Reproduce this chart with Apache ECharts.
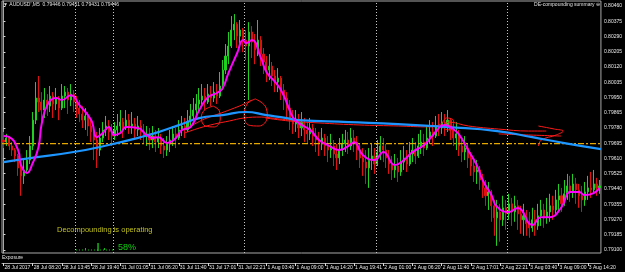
<!DOCTYPE html>
<html>
<head>
<meta charset="utf-8">
<script src="https://cdn.jsdelivr.net/npm/echarts@6/dist/echarts.min.js"></script>
<style>
html, body { margin: 0; padding: 0; background: #000; }
#chart { width: 625px; height: 272px; }
</style>
</head>
<body>
<div id="chart"></div>
<script>
// time labels, one every 10 bars
const timeLabels = ['28 Jul 2017', '28 Jul 08:20', '28 Jul 13:45', '28 Jul 19:40', '31 Jul 01:05', '31 Jul 06:20',
  '31 Jul 11:40', '31 Jul 17:01', '31 Jul 22:21', '1 Aug 03:40', '1 Aug 09:00', '1 Aug 14:20', '1 Aug 19:41',
  '2 Aug 01:00', '2 Aug 06:20', '2 Aug 11:40', '2 Aug 17:01', '2 Aug 22:21', '3 Aug 03:40', '3 Aug 09:00', '3 Aug 14:20'];

const priceTicks = [0.80460, 0.80375, 0.80290, 0.80205, 0.80120, 0.80035, 0.79950, 0.79865, 0.79780,
  0.79695, 0.79610, 0.79525, 0.79440, 0.79355, 0.79270, 0.79185, 0.79100];

const firstOpen = 0.79713;
const closes = [
  0.79702, 0.79724, 0.79680, 0.79657, 0.79624, 0.79557, 0.79513, 0.79546, 0.79601, 0.79680, 0.79824, 0.79947, 0.79925,
  0.79880, 0.79936, 0.79902, 0.79958, 0.79914, 0.79947, 0.79891, 0.79958, 0.79980, 0.79936, 0.79969, 0.79925, 0.79891,
  0.79858, 0.79824, 0.79847, 0.79791, 0.79758,
  0.79713, 0.79657, 0.79724, 0.79769, 0.79791, 0.79758, 0.79735, 0.79769, 0.79791, 0.79813, 0.79780, 0.79824, 0.79791,
  0.79802, 0.79769, 0.79791, 0.79758, 0.79735, 0.79747, 0.79713, 0.79735, 0.79702, 0.79724, 0.79680, 0.79657, 0.79691,
  0.79713, 0.79747, 0.79724, 0.79769, 0.79791, 0.79769, 0.79813, 0.79847, 0.79880, 0.79914,
  0.79936, 0.79958, 0.79925, 0.79969, 0.79947, 0.79980, 0.79958, 0.80014, 0.80103, 0.80181, 0.80237,
  0.80326, 0.80359, 0.80292, 0.80326, 0.80270, 0.80237, 0.80315, 0.80259, 0.80214, 0.80270, 0.80192,
  0.80148, 0.80103, 0.80125, 0.80070, 0.80036, 0.80058, 0.79991, 0.79947, 0.79891, 0.79836, 0.79802,
  0.79824, 0.79780, 0.79813, 0.79769, 0.79747, 0.79780, 0.79735, 0.79713, 0.79691, 0.79724, 0.79680,
  0.79657, 0.79680, 0.79635, 0.79613, 0.79657, 0.79691, 0.79713, 0.79680, 0.79724, 0.79702, 0.79657,
  0.79613, 0.79590, 0.79557, 0.79601, 0.79624, 0.79579, 0.79646, 0.79680, 0.79657, 0.79613, 0.79579,
  0.79546, 0.79568, 0.79535, 0.79590, 0.79613, 0.79579, 0.79635, 0.79657, 0.79624, 0.79680, 0.79702,
  0.79668, 0.79724, 0.79758, 0.79735, 0.79791, 0.79780, 0.79813, 0.79791, 0.79824, 0.79769, 0.79724,
  0.79747, 0.79680, 0.79646, 0.79668, 0.79613, 0.79568, 0.79535, 0.79546, 0.79490, 0.79446, 0.79402,
  0.79424, 0.79346, 0.79279, 0.79312, 0.79268, 0.79335, 0.79301, 0.79357, 0.79312, 0.79346, 0.79301,
  0.79268, 0.79290, 0.79246, 0.79223, 0.79268, 0.79234, 0.79290, 0.79323, 0.79279, 0.79312, 0.79346,
  0.79323, 0.79379, 0.79402, 0.79357, 0.79413, 0.79457, 0.79424, 0.79468, 0.79435, 0.79402, 0.79379,
  0.79424, 0.79446, 0.79435, 0.79468, 0.79446, 0.79457
];
const highs = [
  0.79758, 0.79747, 0.79735, 0.79702, 0.79668, 0.79635, 0.79590, 0.79601, 0.79657, 0.79735, 0.79869, 0.80036, 0.80070,
  0.79980, 0.80003, 0.79969, 0.80014, 0.79980, 0.80003, 0.79958, 0.80025, 0.80014, 0.80003, 0.80025, 0.79991, 0.79958,
  0.79936, 0.79902, 0.79891, 0.79869, 0.79824,
  0.79791, 0.79758, 0.79780, 0.79813, 0.79847, 0.79824, 0.79802, 0.79813, 0.79858, 0.79880, 0.79836, 0.79880, 0.79858,
  0.79869, 0.79836, 0.79847, 0.79824, 0.79802, 0.79791, 0.79780, 0.79791, 0.79769, 0.79780, 0.79747, 0.79724, 0.79735,
  0.79769, 0.79791, 0.79780, 0.79824, 0.79847, 0.79836, 0.79880, 0.79914, 0.79947, 0.79969,
  0.80003, 0.80025, 0.80003, 0.80025, 0.80014, 0.80036, 0.80025, 0.80092, 0.80159, 0.80248, 0.80315,
  0.80404, 0.80415, 0.80370, 0.80382, 0.80337, 0.80326, 0.80370, 0.80348, 0.80304, 0.80382, 0.80292,
  0.80226, 0.80181, 0.80192, 0.80148, 0.80103, 0.80114, 0.80070, 0.80025, 0.79980, 0.79936, 0.79880,
  0.79880, 0.79858, 0.79869, 0.79836, 0.79813, 0.79836, 0.79802, 0.79780, 0.79758, 0.79780, 0.79747,
  0.79735, 0.79747, 0.79713, 0.79691, 0.79724, 0.79747, 0.79769, 0.79758, 0.79780, 0.79769, 0.79735,
  0.79691, 0.79668, 0.79657, 0.79668, 0.79691, 0.79668, 0.79713, 0.79735, 0.79724, 0.79691, 0.79657,
  0.79624, 0.79635, 0.79613, 0.79657, 0.79680, 0.79657, 0.79702, 0.79724, 0.79702, 0.79747, 0.79769,
  0.79747, 0.79791, 0.79824, 0.79813, 0.79847, 0.79858, 0.79869, 0.79858, 0.79880, 0.79836, 0.79802,
  0.79813, 0.79769, 0.79724, 0.79735, 0.79691, 0.79646, 0.79613, 0.79601, 0.79568, 0.79524, 0.79490,
  0.79479, 0.79435, 0.79379, 0.79379, 0.79357, 0.79402, 0.79379, 0.79413, 0.79390, 0.79402, 0.79379,
  0.79346, 0.79357, 0.79323, 0.79312, 0.79335, 0.79323, 0.79357, 0.79379, 0.79357, 0.79390, 0.79413,
  0.79402, 0.79435, 0.79468, 0.79446, 0.79490, 0.79524, 0.79513, 0.79524, 0.79502, 0.79468, 0.79457,
  0.79479, 0.79513, 0.79535, 0.79546, 0.79502, 0.79490
];
const lows = [
  0.79668, 0.79680, 0.79657, 0.79624, 0.79590, 0.79513, 0.79402, 0.79468, 0.79535, 0.79579, 0.79657, 0.79802, 0.79869,
  0.79813, 0.79836, 0.79847, 0.79869, 0.79836, 0.79880, 0.79824, 0.79880, 0.79891, 0.79858, 0.79902, 0.79869, 0.79836,
  0.79813, 0.79780, 0.79769, 0.79735, 0.79702,
  0.79601, 0.79557, 0.79624, 0.79702, 0.79735, 0.79713, 0.79680, 0.79713, 0.79735, 0.79758, 0.79724, 0.79769, 0.79747,
  0.79747, 0.79724, 0.79735, 0.79713, 0.79691, 0.79680, 0.79657, 0.79668, 0.79646, 0.79668, 0.79635, 0.79613, 0.79624,
  0.79646, 0.79680, 0.79668, 0.79713, 0.79735, 0.79724, 0.79758, 0.79791, 0.79824, 0.79858,
  0.79880, 0.79902, 0.79880, 0.79914, 0.79902, 0.79925, 0.79914, 0.79947, 0.79991, 0.80081, 0.80136,
  0.80226, 0.80270, 0.80226, 0.80248, 0.80203, 0.80159, 0.79936, 0.80170, 0.80136, 0.80181, 0.80125,
  0.80081, 0.80036, 0.80047, 0.80014, 0.79980, 0.79980, 0.79936, 0.79880, 0.79824, 0.79769, 0.79747,
  0.79758, 0.79724, 0.79735, 0.79702, 0.79691, 0.79713, 0.79680, 0.79646, 0.79624, 0.79657, 0.79624,
  0.79590, 0.79613, 0.79568, 0.79546, 0.79579, 0.79624, 0.79646, 0.79635, 0.79657, 0.79646, 0.79601,
  0.79557, 0.79513, 0.79468, 0.79446, 0.79546, 0.79524, 0.79568, 0.79601, 0.79590, 0.79557, 0.79524,
  0.79490, 0.79502, 0.79479, 0.79513, 0.79546, 0.79535, 0.79568, 0.79590, 0.79579, 0.79613, 0.79635,
  0.79624, 0.79657, 0.79691, 0.79680, 0.79724, 0.79735, 0.79747, 0.79735, 0.79758, 0.79713, 0.79680,
  0.79657, 0.79624, 0.79590, 0.79601, 0.79557, 0.79513, 0.79479, 0.79468, 0.79435, 0.79390, 0.79346,
  0.79323, 0.79257, 0.79179, 0.79123, 0.79146, 0.79234, 0.79212, 0.79268, 0.79234, 0.79257, 0.79212,
  0.79190, 0.79179, 0.79179, 0.79168, 0.79201, 0.79179, 0.79212, 0.79234, 0.79223, 0.79246, 0.79257,
  0.79268, 0.79301, 0.79323, 0.79312, 0.79346, 0.79379, 0.79368, 0.79390, 0.79357, 0.79335, 0.79312,
  0.79346, 0.79379, 0.79390, 0.79413, 0.79402, 0.79413
];

// moving averages as [bar, price]
const fastMA = [[0, 0.79735], [2, 0.79729], [5, 0.79657], [6, 0.79573], [8, 0.79529], [10, 0.79584], [12, 0.79674],
  [13, 0.79796], [15, 0.79908], [18, 0.79947], [20, 0.79936], [23, 0.79963], [26, 0.79908], [30, 0.79824],
  [32, 0.79729], [34, 0.79752], [36, 0.79785], [38, 0.79741], [40, 0.79752], [42, 0.79785], [46, 0.79780],
  [49, 0.79741], [51, 0.79724], [53, 0.79729], [56, 0.79696], [59, 0.79724], [61, 0.79768], [64, 0.79785],
  [67, 0.79880], [70, 0.79952], [73, 0.79975], [75, 0.80002], [77, 0.80086], [80, 0.80198], [82, 0.80270],
  [83, 0.80253], [85, 0.80270], [88, 0.80175], [90, 0.80092], [93, 0.80036], [95, 0.79991], [97, 0.79919],
  [99, 0.79841], [101, 0.79807], [105, 0.79768], [108, 0.79713], [111, 0.79685], [115, 0.79657], [118, 0.79679],
  [120, 0.79701], [123, 0.79629], [127, 0.79601], [130, 0.79646], [134, 0.79573], [137, 0.79601], [140, 0.79646],
  [144, 0.79685], [147, 0.79741], [151, 0.79796], [153, 0.79785], [156, 0.79741], [159, 0.79657], [162, 0.79573],
  [164, 0.79490], [167, 0.79406], [169, 0.79339], [173, 0.79311], [176, 0.79334], [181, 0.79239], [184, 0.79283],
  [187, 0.79283], [191, 0.79339], [194, 0.79423], [197, 0.79423], [199, 0.79406], [202, 0.79417], [204, 0.79445]];
const slowMA = [[0, 0.79590], [9, 0.79612], [24, 0.79646], [36, 0.79685], [47, 0.79729], [53, 0.79757],
  [60, 0.79796], [67, 0.79835], [75, 0.79852], [83, 0.79869], [90, 0.79852], [97, 0.79835], [101, 0.79824],
  [118, 0.79813], [135, 0.79802], [152, 0.79785], [169, 0.79763], [181, 0.79729], [192, 0.79696], [204.5, 0.79662]];

const levelLine = 0.79693;
const separatorBars = [24.7, 37.7, 82.4, 127.5, 172.5];
const decompoundPct = 58;

// hand-drawn red strokes, [bar, price]
const scribbles = [
  [[62.0, 0.79752], [67.1, 0.79780], [72.2, 0.79802], [77.3, 0.79819], [82.4, 0.79836], [88.2, 0.79841], [94.4, 0.79830], [101.2, 0.79819]],
  [[71.8, 0.79902], [73.9, 0.79875], [74.2, 0.79830], [72.2, 0.79786], [69.1, 0.79791], [67.7, 0.79836], [68.8, 0.79880], [71.8, 0.79902]],
  [[62.6, 0.79780], [65.4, 0.79802], [68.8, 0.79830], [74.6, 0.79864], [79.0, 0.79891], [82.4, 0.79914], [84.8, 0.79936]],
  [[86.2, 0.79942], [89.6, 0.79902], [90.3, 0.79841], [87.5, 0.79791], [83.8, 0.79797], [82.4, 0.79852], [83.4, 0.79914], [86.2, 0.79942]],
  [[89.6, 0.79836], [97.8, 0.79819], [108.0, 0.79808], [121.7, 0.79797], [135.3, 0.79791], [145.6, 0.79786], [149.7, 0.79802],
    [151.7, 0.79836], [154.1, 0.79819], [153.1, 0.79769], [150.7, 0.79780], [152.4, 0.79813], [159.2, 0.79791], [169.5, 0.79774],
    [179.7, 0.79763], [185.8, 0.79763]],
  [[183.1, 0.79791], [188.6, 0.79774], [191.6, 0.79763], [189.2, 0.79741], [184.1, 0.79713], [183.1, 0.79680]],
  [[169.5, 0.79747], [179.7, 0.79741], [190.9, 0.79735]]
];

const candles = closes.map((c, i) => {
  const o = i === 0 ? firstOpen : closes[i - 1];
  return [o, c, Math.min(lows[i], o, c), Math.max(highs[i], o, c)];
});

const FONT = 'Liberation Sans';
const chart = echarts.init(document.getElementById('chart'));

const scribbleSeries = scribbles.map((s) => ({
  type: 'line',
  xAxisIndex: 1,
  data: s,
  smooth: 0.4,
  symbol: 'none',
  silent: true,
  lineStyle: { color: '#ff1a1a', width: 1 },
  z: 4,
}));

// little progress gauge under the text
const gx0 = 76, gx1 = 114, gy = 250;
const gMark = gx0 + (gx1 - gx0) * decompoundPct / 100;

const option = {
  backgroundColor: '#000',
  animation: false,
  grid: { left: 2, right: 22, top: 1, bottom: 19, show: true, borderColor: '#a8a8a8', borderWidth: 1 },
  xAxis: [
    {
      type: 'category',
      data: closes.map((_, i) => i),
      offset: 10,
      axisLine: { show: true, lineStyle: { color: '#a8a8a8' } },
      axisTick: { show: true, alignWithLabel: true, interval: (i) => i % 10 === 0, length: 3, lineStyle: { color: '#d8d8d8' } },
      axisLabel: {
        interval: (i) => i % 10 === 0,
        formatter: (v, i) => timeLabels[i / 10] || '',
        color: '#e8e8e8', fontSize: 5, fontFamily: FONT, align: 'left', margin: 2, padding: [0, 0, 0, 1],
      },
      splitLine: { show: false },
    },
    { type: 'value', min: -0.5, max: 204.5, show: false },
  ],
  yAxis: {
    type: 'value',
    position: 'right',
    min: 0.79083,
    max: 0.80488,
    axisLine: { show: true, lineStyle: { color: '#a8a8a8' } },
    axisTick: { show: true, customValues: priceTicks, length: 2, lineStyle: { color: '#d8d8d8' } },
    axisLabel: { customValues: priceTicks, formatter: (v) => v.toFixed(5), color: '#e8e8e8', fontSize: 5, fontFamily: FONT, margin: 3 },
    splitLine: { show: false },
  },
  series: [
    {
      type: 'line',
      xAxisIndex: 1,
      data: [],
      silent: true,
      markLine: {
        symbol: 'none',
        silent: true,
        precision: 3,
        label: { show: false },
        lineStyle: { color: '#c8c8c8', type: [1, 2], width: 1 },
        data: separatorBars.map((b) => ({ xAxis: b })),
      },
      z: 1,
    },
    {
      type: 'candlestick',
      data: candles,
      barWidth: 1.6,
      itemStyle: { color: '#20d020', color0: '#e01010', borderColor: '#20d020', borderColor0: '#e01010', borderWidth: 1 },
      z: 2,
    },
    {
      // horizontal price level, dash-dot gold
      type: 'line',
      xAxisIndex: 1,
      data: [[-0.5, levelLine], [204.5, levelLine]],
      symbol: 'none',
      silent: true,
      itemStyle: { color: '#e6a800' },
      lineStyle: { color: '#e6a800', type: [6, 2, 2, 2], width: 1.4 },
      markLine: {
        symbol: 'none',
        silent: true,
        precision: 5,
        lineStyle: { width: 0, opacity: 0 },
        label: { show: true, position: 'insideStartTop', formatter: levelLine.toFixed(5), color: '#b0b0b0', fontSize: 5, fontFamily: FONT, distance: [3, 1] },
        data: [{ yAxis: levelLine }],
      },
      z: 3,
    },
    {
      type: 'line',
      xAxisIndex: 1,
      data: slowMA,
      smooth: 0.5,
      symbol: 'none',
      silent: true,
      lineStyle: { color: '#1e96ff', width: 2.2 },
      z: 5,
    },
    {
      type: 'line',
      xAxisIndex: 1,
      data: fastMA,
      smooth: 0.5,
      symbol: 'none',
      silent: true,
      lineStyle: { color: '#ff00ff', width: 2 },
      z: 6,
    },
    ...scribbleSeries,
  ],
  graphic: [
    { type: 'text', left: 3, top: 2, style: { text: "\u25BC AUDUSD',M5  0.79446 0.79451 0.79431 0.79446", fill: '#e0e0e0', font: '5px ' + FONT } },
    { type: 'text', right: 25, top: 2, style: { text: 'DE-compounding summary \u2296', fill: '#e0e0e0', font: '5px ' + FONT } },
    { type: 'text', left: 57, top: 226, style: { text: 'Decompounding is operating', fill: '#c0c020', font: '7.5px ' + FONT } },
    { type: 'text', left: 118, top: 243, style: { text: decompoundPct + '%', fill: '#10d010', font: '9px ' + FONT } },
    { type: 'line', shape: { x1: gx0, y1: gy, x2: gx1, y2: gy }, style: { stroke: '#10c010', lineWidth: 1, lineDash: [1, 2] } },
    { type: 'line', shape: { x1: gx0 + (gx1 - gx0) * 0.25, y1: gy - 2, x2: gx0 + (gx1 - gx0) * 0.25, y2: gy }, style: { stroke: '#10c010', lineWidth: 1 } },
    { type: 'line', shape: { x1: gx0 + (gx1 - gx0) * 0.75, y1: gy - 2, x2: gx0 + (gx1 - gx0) * 0.75, y2: gy }, style: { stroke: '#10c010', lineWidth: 1 } },
    { type: 'line', shape: { x1: gMark, y1: gy - 7, x2: gMark, y2: gy + 1 }, style: { stroke: '#20e020', lineWidth: 1.2 } },
    { type: 'text', left: 2, top: 255, style: { text: 'Exposure', fill: '#e0e0e0', font: '5px ' + FONT } },
  ],
};

chart.setOption(option);
window.addEventListener('resize', () => chart.resize());
</script>
</body>
</html>
